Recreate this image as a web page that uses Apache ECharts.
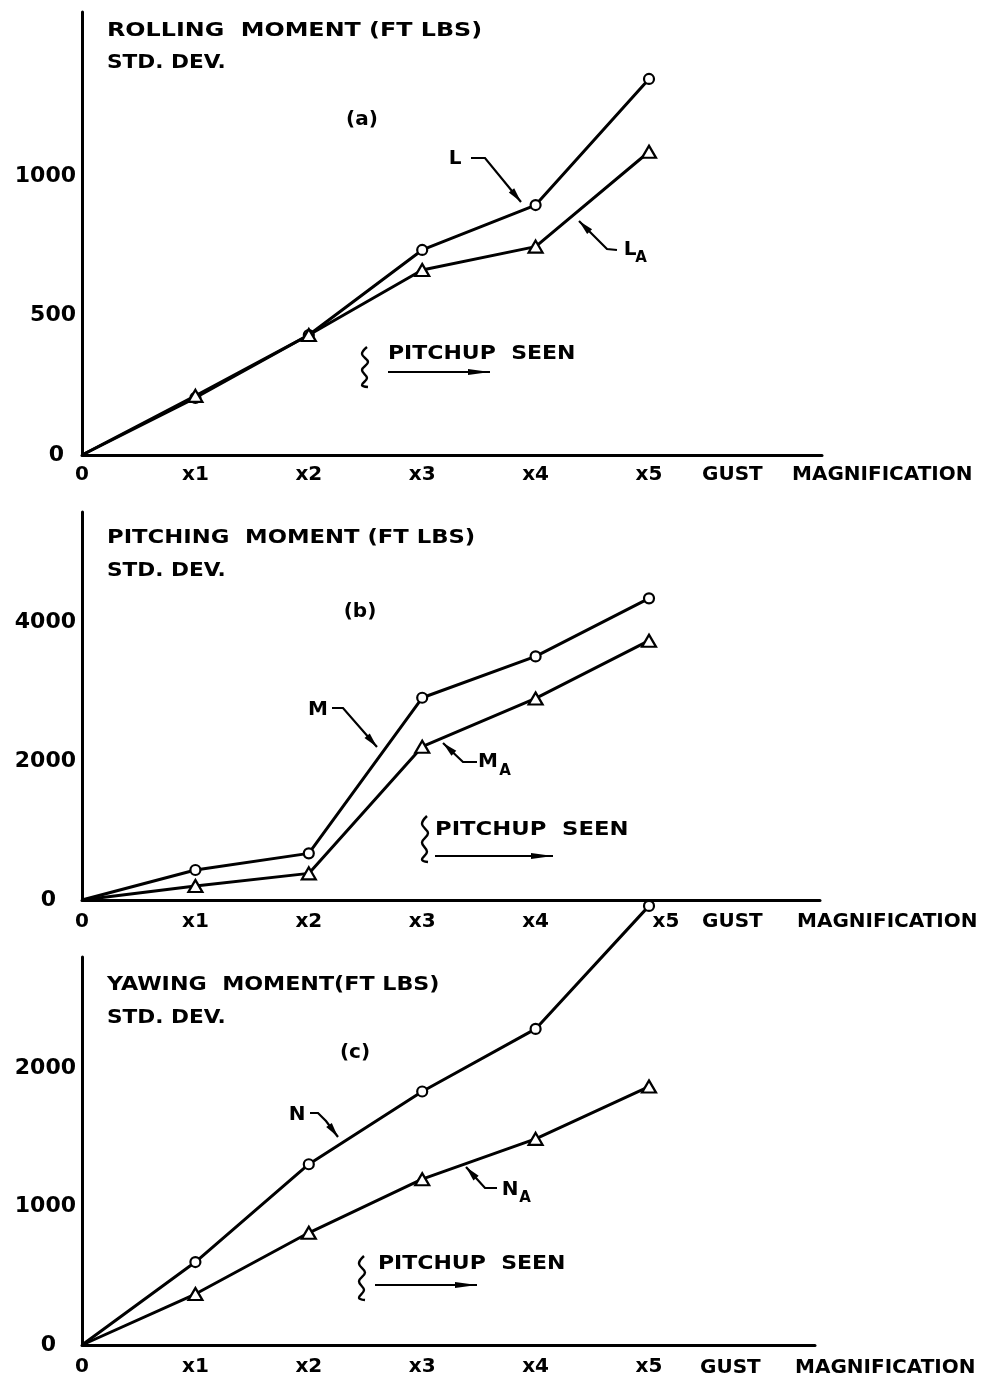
<!DOCTYPE html>
<html>
<head>
<meta charset="utf-8">
<script src="https://cdn.jsdelivr.net/npm/echarts@6/dist/echarts.min.js"></script>
<style>
html,body{margin:0;padding:0;background:#fff;}
#chart{width:995px;height:1385px;}
</style>
</head>
<body>
<div id="chart"></div>
<script>
// ---- data ----
const gust = [0, 1, 2, 3, 4, 5];
const xTickLabels = ['0', 'x1', 'x2', 'x3', 'x4', 'x5'];
const rollL  = [0, 205, 430, 735, 896, 1348];
const rollLA = [0, 212, 430, 663, 747, 1087];
const pitchM  = [0, 432, 671, 2910, 3505, 4341];
const pitchMA = [0, 201, 383, 2206, 2900, 3731];
const yawN  = [0, 599, 1305, 1830, 2282, 3170];
const yawNA = [0, 368, 810, 1197, 1488, 1866];
const yTicksA = [0, 500, 1000];
const yTicksB = [0, 2000, 4000];
const yTicksC = [0, 1000, 2000];

const FF = '"DejaVu Sans", sans-serif';
const chart = echarts.init(document.getElementById('chart'));

function xAxis(idx, max, margin, lastPad) {
  return {
    type: 'value', gridIndex: idx, min: 0, max: max, interval: 1,
    axisLine: {show: true, onZero: false, lineStyle: {color: '#000', width: 3}},
    axisTick: {show: false}, splitLine: {show: false},
    axisLabel: {
      margin: margin, color: '#000', fontFamily: FF, fontWeight: 'bold', fontSize: 20,
      showMaxLabel: false,
      formatter: v => {
        if (!(Number.isInteger(v) && v >= 0 && v < xTickLabels.length)) return '';
        if (v === xTickLabels.length - 1 && lastPad) return '{p|' + xTickLabels[v] + '}';
        return xTickLabels[v];
      },
      rich: {p: {fontFamily: FF, fontWeight: 'bold', fontSize: 20, color: '#000', padding: [0, 0, 0, lastPad || 0]}}
    }
  };
}
function yAxis(idx, max, interval, ticks, zeroPad) {
  return {
    type: 'value', gridIndex: idx, min: 0, max: max, interval: interval,
    axisLine: {show: true, onZero: false, lineStyle: {color: '#000', width: 3}},
    axisTick: {show: false}, splitLine: {show: false},
    axisLabel: {
      margin: 6, color: '#000', fontFamily: FF, fontWeight: 'bold', fontSize: 22,
      showMaxLabel: false,
      formatter: v => v === 0 ? '{z|0}' : (ticks.indexOf(v) >= 0 ? String(v) : ''),
      rich: {z: {fontFamily: FF, fontWeight: 'bold', fontSize: 22, color: '#000', padding: [0, zeroPad, 0, 0]}}
    }
  };
}
function series(values, symbol, size, idx) {
  return {
    type: 'line', xAxisIndex: idx, yAxisIndex: idx,
    data: values.map((v, i) => i === 0 ? {value: [gust[i], v], symbol: 'none'} : [gust[i], v]),
    symbol: symbol, symbolSize: size, showAllSymbol: true, clip: false,
    lineStyle: {color: '#000', width: 3},
    itemStyle: {color: '#fff', borderColor: '#000', borderWidth: 2.2},
    z: 3
  };
}

// ---- annotation helpers ----
function txt(x, y, s, size, align, sx) {
  return {type: 'text', x: x, y: y, z: 10, scaleX: sx || 1,
    style: {text: s, fill: '#000', font: 'bold ' + size + 'px ' + FF,
      textAlign: align || 'left', textVerticalAlign: 'middle'}};
}
function arrow(pts, len, hw) {
  len = len || 15; hw = hw || 3.5;
  const els = [{type: 'polyline', z: 10, shape: {points: pts}, style: {stroke: '#000', lineWidth: 2.2, fill: null}}];
  const p2 = pts[pts.length - 1], p1 = pts[pts.length - 2];
  const d = Math.hypot(p2[0] - p1[0], p2[1] - p1[1]);
  const ux = (p2[0] - p1[0]) / d, uy = (p2[1] - p1[1]) / d;
  const bx = p2[0] - ux * len, by = p2[1] - uy * len;
  els.push({type: 'polygon', z: 10, shape: {points: [[p2[0], p2[1]], [bx - uy * hw, by + ux * hw], [bx + uy * hw, by - ux * hw]]},
    style: {fill: '#000'}});
  return els;
}
function squiggle(x, y, h) {
  const s = h / 40;
  const pts = [[x + 2, y], [x - 3, y + 7 * s], [x + 3, y + 15 * s], [x - 3, y + 23 * s], [x + 2, y + 31 * s], [x - 3, y + 38 * s], [x + 3, y + 40 * s]];
  return {type: 'polyline', z: 10, shape: {points: pts, smooth: 0.4}, style: {stroke: '#000', lineWidth: 2.4, fill: null}};
}
function pitchup(sx, sy, sh, tx, ty, ax1, ax2, ay, scl) {
  return [squiggle(sx, sy, sh), txt(tx, ty, 'PITCHUP  SEEN', 20, 'left', scl)].concat(arrow([[ax1, ay], [ax2, ay]], 22, 3));
}

const graphics = [].concat(
  // panel a
  [txt(107, 31, 'ROLLING  MOMENT (FT LBS)', 20, 'left', 1.19), txt(107, 63, 'STD. DEV.', 20, 'left', 1.08),
   txt(362, 120, '(a)', 20, 'center'),
   txt(455, 159, 'L', 20, 'center'), txt(630, 250, 'L', 20, 'center'), txt(641, 258, 'A', 15, 'center')],
  arrow([[471, 158], [485, 158], [521, 202]]),
  arrow([[617, 250], [607, 249], [579, 221]]),
  pitchup(365, 347, 40, 388, 354, 388, 490, 372, 1.1),
  // panel b
  [txt(107, 538, 'PITCHING  MOMENT (FT LBS)', 20, 'left', 1.135), txt(107, 571, 'STD. DEV.', 20, 'left', 1.08),
   txt(360, 612, '(b)', 20, 'center'),
   txt(318, 710, 'M', 20, 'center'), txt(488, 762, 'M', 20, 'center'), txt(505, 771, 'A', 15, 'center')],
  arrow([[332, 708], [343, 708], [377, 747]]),
  arrow([[477, 762], [463, 762], [443, 743]]),
  pitchup(425, 816, 46, 435, 830, 435, 553, 856, 1.135),
  // panel c
  [txt(107, 985, 'YAWING  MOMENT(FT LBS)', 20, 'left', 1.11), txt(107, 1018, 'STD. DEV.', 20, 'left', 1.08),
   txt(355, 1053, '(c)', 20, 'center'),
   txt(297, 1115, 'N', 20, 'center'), txt(510, 1190, 'N', 20, 'center'), txt(525, 1198, 'A', 15, 'center')],
  arrow([[310, 1113], [318, 1113], [326, 1121], [338, 1137]]),
  arrow([[497, 1188], [485, 1188], [466, 1167]]),
  pitchup(362, 1256, 44, 378, 1264, 375, 477, 1285, 1.1),
  // axis names
  [txt(702, 475, 'GUST', 20), txt(792, 475, 'MAGNIFICATION', 20),
   txt(702, 922, 'GUST', 20), txt(797, 922, 'MAGNIFICATION', 20),
   txt(700, 1368, 'GUST', 20), txt(795, 1368, 'MAGNIFICATION', 20)]
);

chart.setOption({
  animation: false,
  backgroundColor: '#fff',
  grid: [
    {left: 82, top: 12, width: 740, height: 443},
    {left: 82, top: 512, width: 738, height: 388},
    {left: 82, top: 957, width: 733, height: 388}
  ],
  xAxis: [xAxis(0, 740 / 113.4, 10, 0), xAxis(1, 738 / 113.4, 12, 34), xAxis(2, 733 / 113.4, 12, 0)],
  yAxis: [yAxis(0, 1588, 500, yTicksA, 12), yAxis(1, 5583, 2000, yTicksB, 20), yAxis(2, 2801, 1000, yTicksC, 20)],
  series: [
    series(rollL, 'circle', 10, 0),
    series(rollLA, 'triangle', [14, 12], 0),
    series(pitchM, 'circle', 10, 1),
    series(pitchMA, 'triangle', [14, 12], 1),
    series(yawN, 'circle', 10, 2),
    series(yawNA, 'triangle', [14, 12], 2)
  ],
  graphic: graphics
});
</script>
</body>
</html>
